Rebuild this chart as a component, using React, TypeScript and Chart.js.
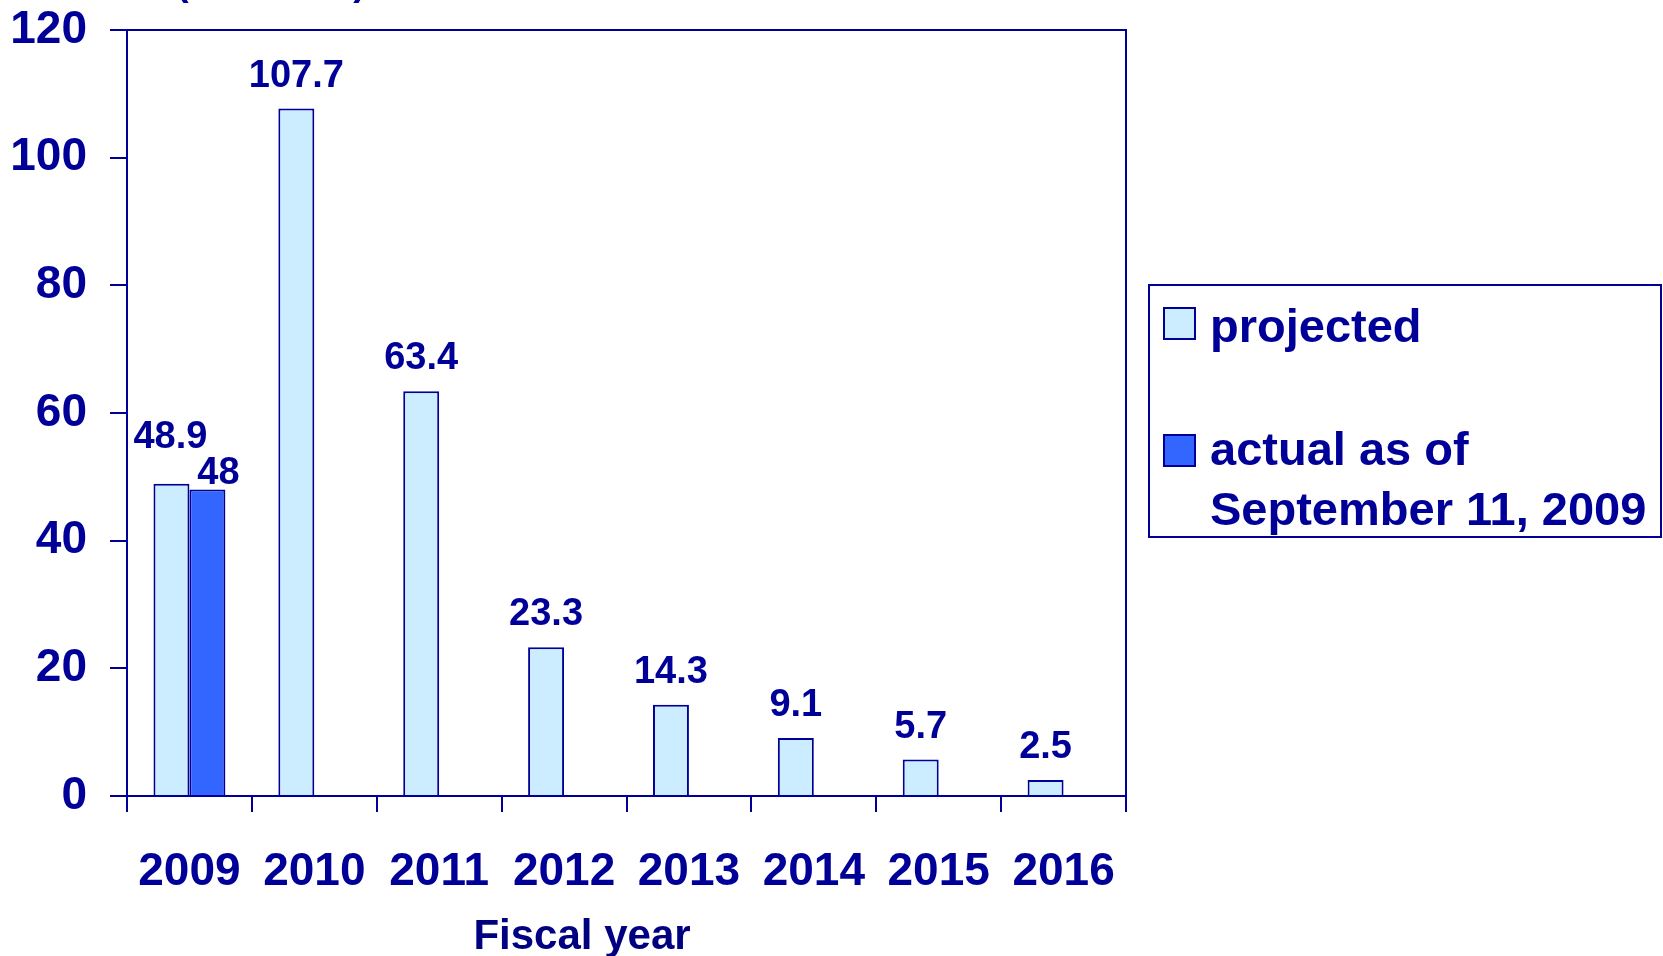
import React, { useEffect, useRef } from "react";
import { Chart, registerables } from "chart.js";

Chart.register(...registerables);

const categories = ["2009", "2010", "2011", "2012", "2013", "2014", "2015", "2016"];
const projectedValues = [48.9, 107.7, 63.4, 23.3, 14.3, 9.1, 5.7, 2.5];
const actualValues: (number | null)[] = [48, null, null, null, null, null, null, null];
const seriesNames = ["projected", "actual as of\nSeptember 11, 2009"];
const yTicks = [0, 20, 40, 60, 80, 100, 120];
const xTitle = "Fiscal year";
const yTitle = "($ billions)";

const NAVY = "#000099";
const LIGHT = "#CCECFF";
const DARK = "#3366FF";
const FONT = '"Liberation Sans", Arial, Helvetica, sans-serif';

const framePlugin = {
  id: "frame",
  afterDraw(chart: any) {
    const { ctx, chartArea } = chart;
    ctx.save();
    ctx.strokeStyle = NAVY;
    ctx.lineWidth = 2;
    ctx.beginPath();
    ctx.moveTo(chartArea.left, chartArea.top);
    ctx.lineTo(chartArea.right, chartArea.top);
    ctx.lineTo(chartArea.right, chartArea.bottom);
    ctx.stroke();

    ctx.fillStyle = "#000080";
    ctx.font = `bold 42px ${FONT}`;
    ctx.textAlign = "center";
    ctx.textBaseline = "alphabetic";
    ctx.fillText(xTitle, 582, 949);
    ctx.fillStyle = NAVY;
    ctx.font = `bold 38px ${FONT}`;
    ctx.textAlign = "left";
    ctx.fillText(yTitle, 176, -5);
    ctx.restore();
  },
};

const labelOffsets: Record<string, { dx: number; dy: number }> = {
  "0-0": { dx: -1, dy: 36 },
  "1-0": { dx: 11, dy: 6 },
};

const labelsPlugin = {
  id: "barLabels",
  afterDatasetsDraw(chart: any) {
    const { ctx } = chart;
    ctx.save();
    ctx.fillStyle = NAVY;
    ctx.font = `bold 38px ${FONT}`;
    ctx.textAlign = "center";
    ctx.textBaseline = "alphabetic";
    chart.data.datasets.forEach((ds: any, di: number) => {
      const meta = chart.getDatasetMeta(di);
      meta.data.forEach((bar: any, i: number) => {
        const v = ds.data[i];
        if (v === null || v === undefined) return;
        const off = labelOffsets[`${di}-${i}`] || { dx: 0, dy: 22 };
        ctx.fillText(String(v), bar.x + off.dx, bar.y - off.dy);
      });
    });
    ctx.restore();
  },
};

const legendPlugin = {
  id: "customLegend",
  afterDraw(chart: any) {
    const { ctx } = chart;
    const ds = chart.data.datasets;
    ctx.save();
    ctx.strokeStyle = NAVY;
    ctx.lineWidth = 2;
    ctx.strokeRect(1149, 285, 512, 252);
    ctx.font = `bold 47px ${FONT}`;
    ctx.textAlign = "left";
    ctx.textBaseline = "alphabetic";
    const swatchTops = [308, 435];
    const baselines = [[342], [465, 525]];
    ds.forEach((d: any, i: number) => {
      ctx.fillStyle = d.backgroundColor;
      ctx.fillRect(1164, swatchTops[i], 31, 31);
      ctx.strokeStyle = NAVY;
      ctx.lineWidth = 2;
      ctx.strokeRect(1164, swatchTops[i], 31, 31);
      ctx.fillStyle = NAVY;
      const lines = String(d.label).split("\n");
      lines.forEach((ln, k) => ctx.fillText(ln, 1210, baselines[i][k]));
    });
    ctx.restore();
  },
};

export default function App() {
  const ref = useRef<HTMLCanvasElement>(null);
  useEffect(() => {
    if (!ref.current) return;
    const chart = new Chart(ref.current, {
      type: "bar",
      data: {
        labels: categories,
        datasets: [
          {
            label: seriesNames[0],
            data: projectedValues,
            backgroundColor: LIGHT,
            borderColor: NAVY,
            borderWidth: 2,
            categoryPercentage: 0.576,
            barPercentage: 1.0,
          },
          {
            label: seriesNames[1],
            data: actualValues,
            backgroundColor: DARK,
            borderColor: NAVY,
            borderWidth: 2,
            categoryPercentage: 0.576,
            barPercentage: 1.0,
          },
        ],
      },
      options: {
        responsive: false,
        animation: false,
        events: [],
        layout: { padding: { top: 30, right: 537, left: 0, bottom: 0 } },
        plugins: {
          legend: { display: false },
          tooltip: { enabled: false },
          title: { display: false },
        },
        scales: {
          x: {
            offset: true,
            grid: {
              display: true,
              offset: true,
              drawOnChartArea: false,
              drawTicks: true,
              tickLength: 16,
              color: NAVY,
              lineWidth: 2,
            },
            border: { display: true, color: NAVY, width: 2 },
            ticks: {
              color: NAVY,
              font: { family: FONT, size: 46, weight: "bold" },
              padding: 33,
              maxRotation: 0,
              autoSkip: false,
            },
            afterFit(scale: any) {
              scale.height = 160;
              scale.paddingLeft = 0;
              scale.paddingRight = 0;
            },
          },
          y: {
            min: 0,
            max: 120,
            afterBuildTicks(scale: any) {
              scale.ticks = yTicks.map((v) => ({ value: v }));
            },
            grid: {
              display: true,
              drawOnChartArea: false,
              drawTicks: true,
              tickLength: 17,
              color: NAVY,
              lineWidth: 2,
            },
            border: { display: true, color: NAVY, width: 2 },
            ticks: {
              color: NAVY,
              font: { family: FONT, size: 46, weight: "bold" },
              padding: 23,
            },
            afterFit(scale: any) {
              scale.width = 127;
              scale.paddingTop = 0;
              scale.paddingBottom = 0;
            },
          },
        },
      },
      plugins: [framePlugin, labelsPlugin, legendPlugin],
    });
    return () => chart.destroy();
  }, []);
  return (
    <div style={{ position: "absolute", left: 0, top: 0, width: 1663, height: 956, background: "#fff" }}>
      <canvas ref={ref} width={1663} height={956} style={{ display: "block" }} />
    </div>
  );
}
